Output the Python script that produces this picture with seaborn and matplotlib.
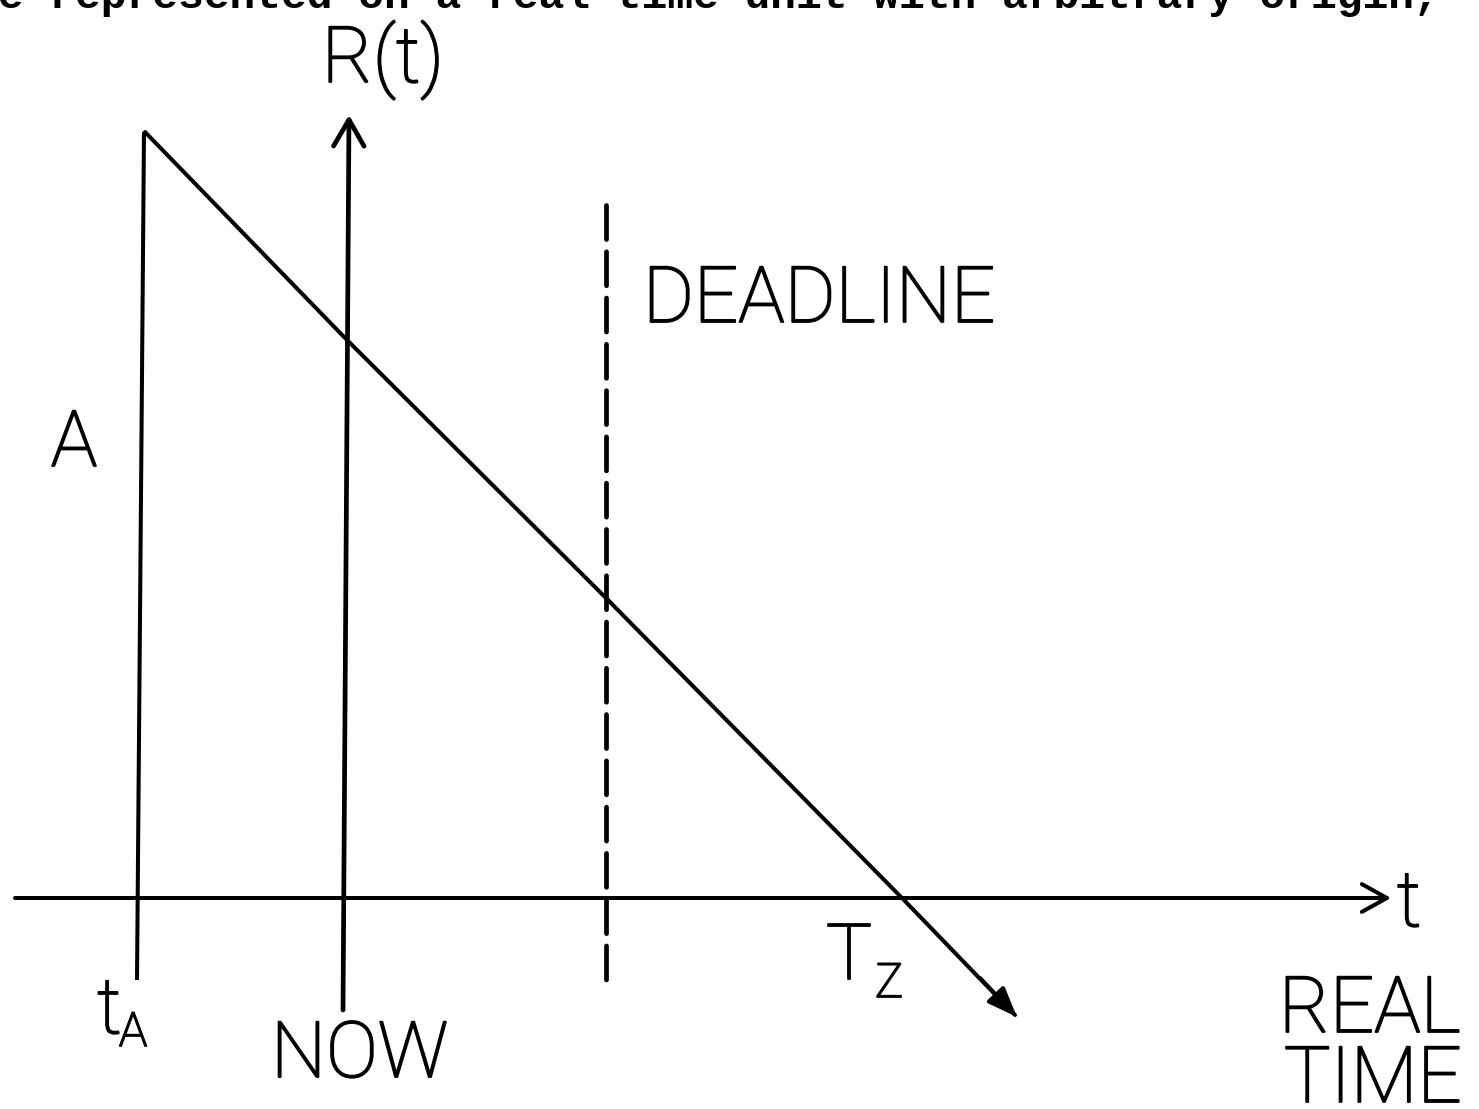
import matplotlib
matplotlib.use("Agg")
import matplotlib.pyplot as plt
import matplotlib.patheffects as pe
import seaborn as sns
import pandas as pd

# Remaining-time function R(t): time axis origin at NOW, 1 unit = 100 px
t_points = [-1.98, 0.04, 2.63, 5.59, 6.72]
r_points = [7.66, 5.58, 3.00, 0.00, -1.17]

t_arrival = -2.03        # t_A
r_arrival = 7.66         # A
t_deadline = 2.63
t_zero = 5.59            # T_Z

caption = "be represented on a real time unit with arbitrary origin,"

sns.set_theme(style="white")
plt.rcParams["font.family"] = ["Roboto", "DejaVu Sans"]

fig = plt.figure(figsize=(14.79, 11.09), dpi=100)
ax = fig.add_axes([0, 0, 1, 1])
ax.set_xlim(-3.43, 11.36)
ax.set_ylim(-2.11, 8.98)
ax.axis("off")

ink = "black"
lw = 2.9


def px(x):
    return (x - 343) / 100


def py(y):
    return (898 - y) / 100


# R(t) decreasing line
df = pd.DataFrame({"t": t_points, "R": r_points})
sns.lineplot(data=df, x="t", y="R", ax=ax, color=ink, linewidth=lw, sort=False)
ax.annotate("", xy=(t_points[-1] + 0.02, r_points[-1] - 0.02),
            xytext=(t_points[-1] - 0.35, r_points[-1] + 0.37),
            arrowprops=dict(arrowstyle="-|>,head_length=0.9,head_width=0.35",
                            mutation_scale=20, color=ink, lw=lw,
                            shrinkA=0, shrinkB=0))

# time axis
ax.annotate("", xy=(px(1391), 0), xytext=(px(15), 0),
            arrowprops=dict(arrowstyle="->,head_length=0.9,head_width=0.5",
                            mutation_scale=20, color=ink, lw=lw,
                            shrinkA=0, shrinkB=0))

# NOW axis (vertical arrow)
ax.annotate("", xy=(px(349), py(115)), xytext=(px(343), py(1010)),
            arrowprops=dict(arrowstyle="->,head_length=0.95,head_width=0.55",
                            mutation_scale=20, color=ink, lw=lw + 0.5,
                            shrinkA=0, shrinkB=0))

# arrival line t_A
ax.plot([t_arrival + 0.04, t_arrival - 0.03], [r_arrival, py(980)],
        color=ink, lw=lw, solid_capstyle="butt")

# deadline
ax.plot([t_deadline, t_deadline], [py(205), py(985)], color=ink, lw=3.4,
        linestyle=(0, (7.2, 2.6)), dash_capstyle="round")

fs = 56
sub = 34
bold_ink = [pe.withStroke(linewidth=1.3, foreground=ink)]
tkw = dict(color=ink, fontsize=fs, fontweight="light", path_effects=bold_ink)
skw = dict(color=ink, fontsize=sub, fontweight="light", path_effects=bold_ink)
ax.text(px(383), py(82), "R(t)", ha="center", va="baseline", **tkw)
ax.text(px(74), py(466), "A", ha="center", va="baseline", **tkw)
ax.text(px(643), py(322), "DEADLINE", ha="left", va="baseline", **tkw)
ax.text(px(826), py(979), "T", ha="left", va="baseline", **tkw)
ax.text(px(875), py(997), "Z", ha="left", va="baseline", **skw)
ax.text(px(97), py(1033), "t", ha="left", va="baseline", **tkw)
ax.text(px(119), py(1046), "A", ha="left", va="baseline", **skw)
ax.text(px(271), py(1077), "NOW", ha="left", va="baseline", **tkw)
ax.text(px(1409), py(926), "t", ha="center", va="baseline", **tkw)
ax.text(px(1279), py(1032), "REAL", ha="left", va="baseline", **tkw)
ax.text(px(1284), py(1102), "TIME", ha="left", va="baseline", **tkw)

# typewritten line running above the figure
ax.text(px(-28), py(8), caption, ha="left", va="baseline",
        fontsize=31, family=["Liberation Mono", "DejaVu Sans Mono"],
        fontweight="bold", color=ink)

fig.savefig("out.png", dpi=100, facecolor="white")
